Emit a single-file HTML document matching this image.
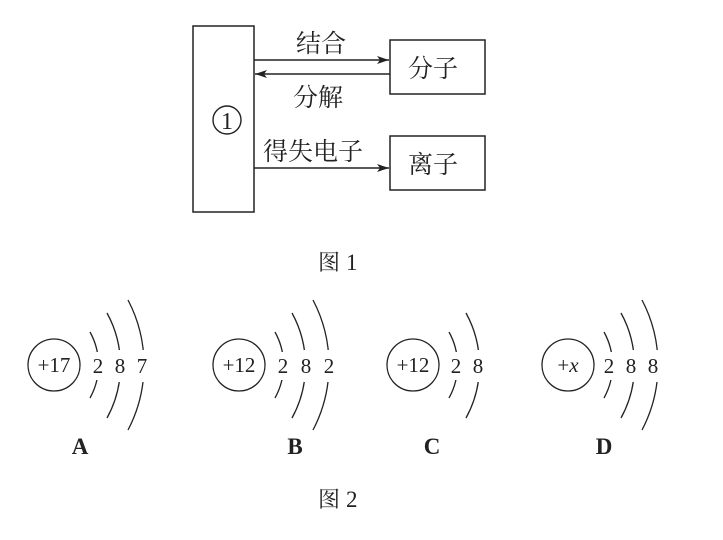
<!DOCTYPE html>
<html><head><meta charset="utf-8"><style>
html,body{margin:0;padding:0;background:#fff;}
svg{display:block;}
.cn{font-family:"Liberation Serif","Noto Serif CJK SC","Noto Sans CJK SC",serif;fill:#222;}
.n{font-family:"Liberation Serif",serif;fill:#222;}
</style></head><body>
<svg width="723" height="540" viewBox="0 0 723 540" xmlns="http://www.w3.org/2000/svg">
<defs><marker id="ar" markerWidth="12" markerHeight="8" refX="12" refY="4" orient="auto" markerUnits="userSpaceOnUse"><path d="M0,0 L12,4 L0,8 L3,4 Z" fill="#222"/></marker></defs>
<g stroke="#222" stroke-width="1.5" fill="none">
<rect x="193" y="26" width="61" height="186"/>
<rect x="390" y="40" width="95" height="54"/>
<rect x="390" y="136" width="95" height="54"/>
<line x1="254" y1="60" x2="389" y2="60" marker-end="url(#ar)"/>
<line x1="390" y1="74" x2="255" y2="74" marker-end="url(#ar)"/>
<line x1="254" y1="168" x2="389" y2="168" marker-end="url(#ar)"/>
<circle cx="227" cy="120" r="14" stroke-width="1.4"/>
</g>
<g class="cn" font-size="25">
<text x="296" y="52">结合</text>
<text x="293" y="106">分解</text>
<text x="263" y="160">得失电子</text>
<text x="408" y="77">分子</text>
<text x="408" y="173">离子</text>
<text x="227" y="129" class="n" font-size="24" text-anchor="middle">1</text>
<text x="318" y="270" font-size="22">图</text>
<text x="346" y="270" class="n" font-size="23">1</text>
<text x="318" y="507" font-size="22">图</text>
<text x="346" y="507" class="n" font-size="23">2</text>
</g>
<g stroke="#222" stroke-width="1.3" fill="none">
<circle cx="54" cy="365" r="26"/>
<circle cx="239" cy="365" r="26"/>
<circle cx="413" cy="365" r="26"/>
<circle cx="568" cy="365" r="26"/>
<path d="M90 332 A68 68 0 0 1 90 398 M107 313 A109 109 0 0 1 107 418 M128 300 A140 140 0 0 1 128 430"/>
<path d="M275 332 A68 68 0 0 1 275 398 M292 313 A109 109 0 0 1 292 418 M313 300 A140 140 0 0 1 313 430"/>
<path d="M449 332 A68 68 0 0 1 449 398 M466 313 A109 109 0 0 1 466 418"/>
<path d="M604 332 A68 68 0 0 1 604 398 M621 313 A109 109 0 0 1 621 418 M642 300 A140 140 0 0 1 642 430"/>
</g>
<g fill="#fff">
<rect x="90" y="352" width="16" height="28"/><rect x="112" y="350" width="16" height="32"/><rect x="134" y="350" width="16" height="32"/>
<rect x="275" y="352" width="16" height="28"/><rect x="298" y="350" width="16" height="32"/><rect x="321" y="350" width="16" height="32"/>
<rect x="448" y="352" width="16" height="28"/><rect x="470" y="350" width="16" height="32"/>
<rect x="601" y="352" width="16" height="28"/><rect x="623" y="350" width="16" height="32"/><rect x="645" y="350" width="16" height="32"/>
</g>
<g class="n" font-size="21" text-anchor="middle">
<text x="54" y="372">+17</text>
<text x="239" y="372">+12</text>
<text x="413" y="372">+12</text>
<text x="568" y="372">+<tspan font-style="italic">x</tspan></text>
<text x="98" y="373">2</text><text x="120" y="373">8</text><text x="142" y="373">7</text>
<text x="283" y="373">2</text><text x="306" y="373">8</text><text x="329" y="373">2</text>
<text x="456" y="373">2</text><text x="478" y="373">8</text>
<text x="609" y="373">2</text><text x="631" y="373">8</text><text x="653" y="373">8</text>
<g font-size="23" font-weight="bold"><text x="80" y="454">A</text><text x="295" y="454">B</text><text x="432" y="454">C</text><text x="604" y="454">D</text></g>
</g>
</svg>
</body></html>
